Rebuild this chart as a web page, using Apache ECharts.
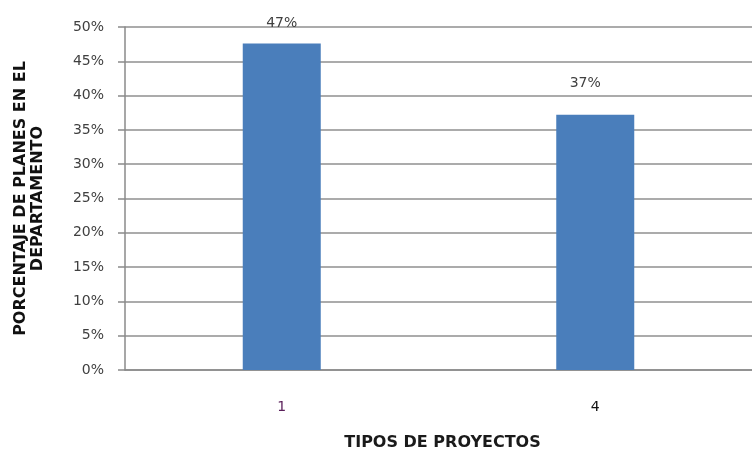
<!DOCTYPE html>
<html>
<head>
<meta charset="utf-8">
<script src="https://cdn.jsdelivr.net/npm/echarts@6/dist/echarts.min.js"></script>
<style>html,body{margin:0;padding:0;background:#fff}#c{width:752px;height:452px}</style>
</head>
<body>
<div id="c"></div>
<script>
var categories = ['1', '4'];
var values = [47.6, 37.2];
var valueLabels = ['47%', '37%'];
var yTicks = [0, 5, 10, 15, 20, 25, 30, 35, 40, 45, 50];
var xLabelColors = ['#5a1f5a', '#111111'];
var labelGaps = [13, 24];
var labelShift = [0, -10];

var chart = echarts.init(document.getElementById('c'));
chart.setOption({
  animation: false,
  backgroundColor: '#ffffff',
  grid: { left: 125, right: 0, top: 27, bottom: 82, containLabel: false, outerBoundsMode: 'none' },
  xAxis: {
    type: 'category',
    data: categories,
    name: 'TIPOS DE PROYECTOS',
    nameLocation: 'middle',
    nameGap: 65,
    nameTextStyle: { fontFamily: 'DejaVu Sans', fontWeight: 'bold', fontSize: 16, color: '#1a1a1a', padding: [0, 0, 0, 8] },
    axisLine: { lineStyle: { color: '#8a8a8a', width: 1.5 } },
    axisTick: { show: false },
    axisLabel: {
      margin: 30,
      fontFamily: 'DejaVu Sans',
      fontSize: 14,
      color: function (v, i) { return xLabelColors[i]; }
    }
  },
  yAxis: {
    type: 'value',
    min: yTicks[0],
    max: yTicks[yTicks.length - 1],
    interval: 5,
    name: 'PORCENTAJE DE PLANES EN EL\nDEPARTAMENTO',
    nameLocation: 'middle',
    nameGap: 79,
    nameRotate: 90,
    nameTextStyle: { fontFamily: 'DejaVu Sans', fontWeight: 'bold', fontSize: 16, color: '#111111', lineHeight: 17, align: 'center' },
    axisLine: { show: true, lineStyle: { color: '#8a8a8a', width: 1.5 } },
    axisTick: { show: true, length: 7, lineStyle: { color: '#8a8a8a', width: 1.5 } },
    splitLine: { lineStyle: { color: '#8f8f8f', width: 1.5 } },
    axisLabel: {
      margin: 21,
      fontFamily: 'DejaVu Sans',
      fontSize: 14,
      color: '#404040',
      formatter: function (v) { return v + '%'; }
    }
  },
  series: [{
    type: 'bar',
    barWidth: 78,
    data: values.map(function (v, i) {
      return {
        value: v,
        label: {
          show: true,
          position: 'top',
          distance: labelGaps[i],
          offset: [labelShift[i], 0],
          formatter: valueLabels[i],
          fontFamily: 'DejaVu Sans',
          fontSize: 14,
          color: '#404040'
        }
      };
    }),
    itemStyle: { color: '#4a7ebb' }
  }]
});
</script>
</body>
</html>
